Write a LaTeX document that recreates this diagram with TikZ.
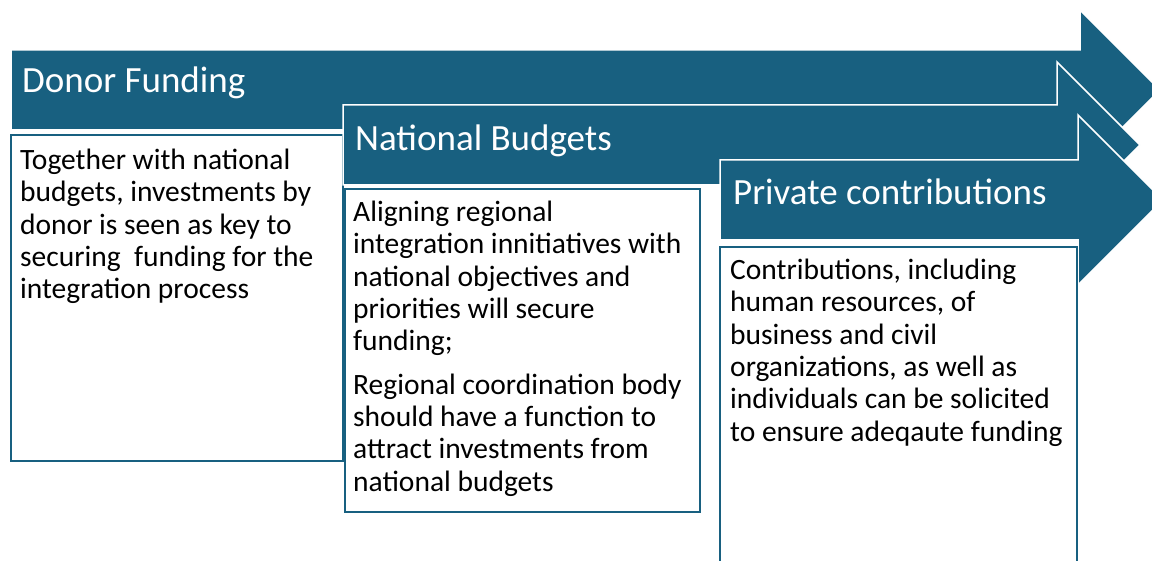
\documentclass[tikz,border=0pt]{standalone}
\usepackage{fontspec}
\setmainfont{Carlito}
\usetikzlibrary{positioning}
\definecolor{bannerblue}{RGB}{24,96,128}

\begin{document}
\begin{tikzpicture}[
    x=1pt, y=-1pt,
    banner/.style={fill=bannerblue, draw=white, line width=1.5pt},
    panel/.style={rectangle, fill=white, draw=bannerblue, line width=2pt, anchor=north west, inner sep=0pt},
    title/.style={anchor=base west, inner sep=0pt, text=white, font=\fontsize{37}{41}\selectfont},
    body/.style={anchor=north west, inner sep=0pt, align=left, font=\fontsize{29.5}{32.3}\selectfont}
]
\fill[white] (0,0) rectangle (1152,561);
\clip (0,0) rectangle (1152,561);
% first stage
\path[banner] (11,50) -- (1080,50) -- (1080,10) -- (1160,90) -- (1080,170) -- (1080,130) -- (11,130) -- cycle;
\node[title] (donor) at (22,93) {Donor Funding};
\node[panel, minimum width=332pt, minimum height=326pt] (donorbox) at (10,134) {};
\node[body] (donortext) at (20,149) {Together with national\\budgets, investments by\\donor is seen as key to\\securing\ \ funding for the\\integration process};
% second stage
\path[banner] (343,105) -- (1057,105) -- (1057,62) -- (1140,145) -- (1057,228) -- (1057,185) -- (343,185) -- cycle;
\node[title] (national) at (355,151) {National Budgets};
\node[panel, minimum width=355pt, minimum height=323pt] (nationalbox) at (344,188) {};
\node[body] (nationaltext) at (353,201) {Aligning regional\\integration innitiatives with\\national objectives and\\priorities will secure\\funding;\\[11pt]Regional coordination body\\should have a function to\\attract investments from\\national budgets};
% third stage
\path[banner] (720,160) -- (1078,160) -- (1078,115) -- (1163,200) -- (1078,285) -- (1078,240) -- (720,240) -- cycle;
\node[title] (private) at (733,205) {Private contributions};
\node[panel, minimum width=357pt, minimum height=354pt] (privatebox) at (719,246) {};
\node[body] (privatetext) at (730,259) {Contributions, including\\human resources, of\\business and civil\\organizations, as well as\\individuals can be solicited\\to ensure adeqaute funding};
\end{tikzpicture}
\end{document}
